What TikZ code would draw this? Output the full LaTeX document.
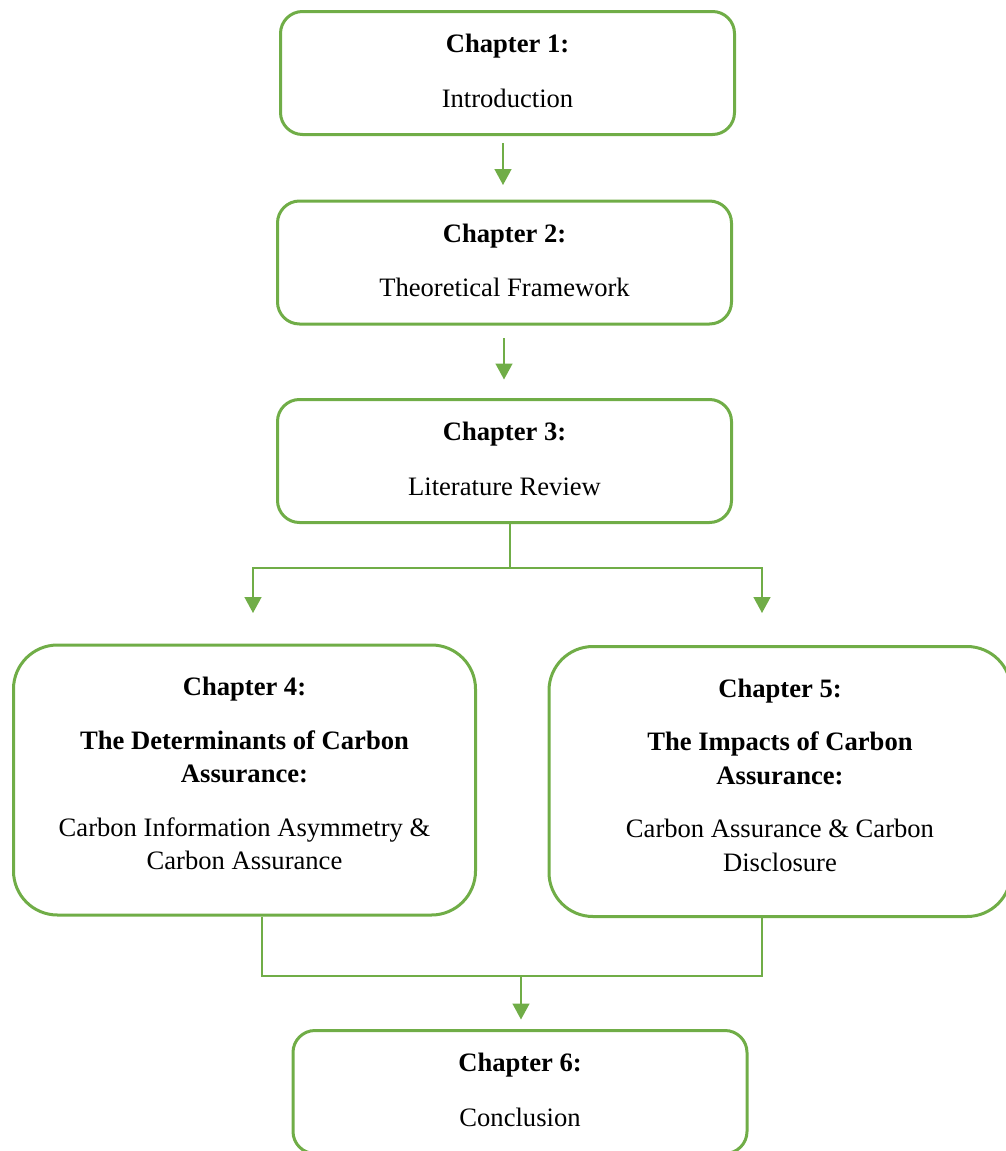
\documentclass[tikz,border=0pt]{standalone}
\usepackage{fontspec}
\setmainfont{Liberation Serif}
\usetikzlibrary{arrows.meta}
\definecolor{chapgreen}{HTML}{70AD47}
\newcommand{\lowfill}[1]{\rule[-#1]{0pt}{0pt}}

\begin{document}
\begin{tikzpicture}[x=0.5pt,y=-0.5pt,
   chapbox/.style={draw=chapgreen, line width=1.5pt, rounded corners=11pt,
      align=center, minimum width=227pt, minimum height=61.5pt,
      font=\fontsize{13.3pt}{16.75pt}\selectfont},
   bigbox/.style={chapbox, rounded corners=22pt, minimum width=231pt, minimum height=135pt},
   link/.style={draw=chapgreen, line width=0.75pt},
   flow/.style={link, -{Triangle[length=8pt,width=8.5pt]}}]
   \useasboundingbox (0,0) rectangle (1006,1151);

   \node[chapbox] (ch1) at (507.5,73)  {\textbf{Chapter 1:}\\[10.5pt]Introduction\lowfill{2pt}};
   \node[chapbox] (ch2) at (504.5,262.5) {\textbf{Chapter 2:}\\[10.5pt]Theoretical Framework\lowfill{2pt}};
   \node[chapbox] (ch3) at (504.5,461) {\textbf{Chapter 3:}\\[10.5pt]Literature Review\lowfill{2pt}};
   \node[bigbox]  (ch4) at (244.5,780) {\textbf{Chapter 4:}\\[10pt]
      \textbf{The Determinants of Carbon}\\\textbf{Assurance:}\\[10pt]
      Carbon Information Asymmetry \&\\Carbon Assurance\lowfill{6.5pt}};
   \node[bigbox]  (ch5) at (780,781.5) {\textbf{Chapter 5:}\\[10pt]
      \textbf{The Impacts of Carbon}\\\textbf{Assurance:}\\[10pt]
      Carbon Assurance \& Carbon\\Disclosure\lowfill{6.5pt}};
   \node[chapbox] (ch6) at (520,1092) {\textbf{Chapter 6:}\\[10.5pt]Conclusion\lowfill{2pt}};

   % split and join points
   \coordinate (fork) at (510,568);
   \coordinate (tip4) at (253,613);
   \coordinate (tip5) at (762,613);
   \coordinate (out4) at (262,976);
   \coordinate (out5) at (762,976);
   \coordinate (join) at (521,976);

   \draw[flow, shorten <=3.5pt, shorten >=7.25pt] (ch1.south -| 503,0) -- (ch2.north -| 503,0);
   \draw[flow, shorten <=6.25pt, shorten >=9.25pt] (ch2.south -| 504,0) -- (ch3.north -| 504,0);
   \draw[link] (ch3.south -| fork) -- (fork);
   \draw[flow] (fork) -| (tip4);
   \draw[flow] (fork) -| (tip5);
   \draw[link] (ch4.south -| out4) -- (out4) -- (out5) -- (ch5.south -| out5);
   \draw[flow, shorten >=4.75pt] (join) -- (join |- ch6.north);
\end{tikzpicture}
\end{document}
